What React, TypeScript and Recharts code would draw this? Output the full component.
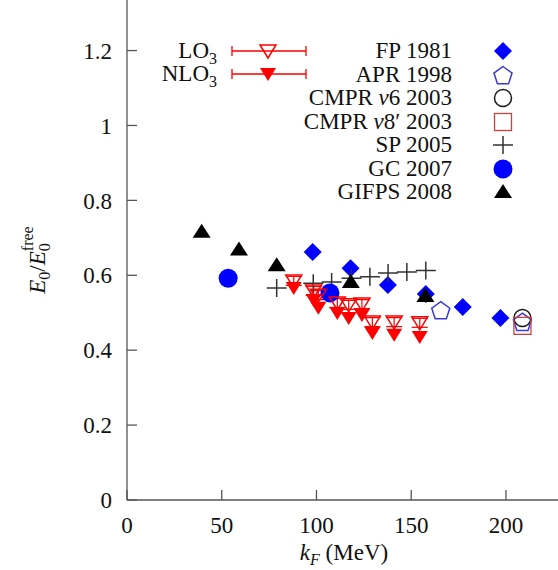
import React from "react";
import { ScatterChart, Scatter, XAxis, YAxis, ErrorBar } from "recharts";

// k_F (MeV) and E0/E0^free
const latticeKf = [88, 98.5, 101, 111, 117, 124, 129.5, 141, 154.5];
const lo3Ratio = [0.585, 0.558, 0.547, 0.526, 0.521, 0.523, 0.475, 0.475, 0.473];
const lo3Err = [0.012, 0.012, 0.012, 0.012, 0.012, 0.012, 0.012, 0.012, 0.012];
const nlo3Ratio = [0.566, 0.534, 0.513, 0.499, 0.486, 0.494, 0.446, 0.441, 0.435];

const fpKf = [98, 118, 137.7, 157.7, 177.2, 197.1];
const fpRatio = [0.662, 0.619, 0.574, 0.55, 0.515, 0.486];
const aprKf = [165.6, 208.7];
const aprRatio = [0.507, 0.476];
const cmprV6Kf = [208.7];
const cmprV6Ratio = [0.486];
const cmprV8Kf = [208.7];
const cmprV8Ratio = [0.465];
const spKf = [79, 98.3, 108, 118.5, 128.2, 137.8, 147.7, 157.7];
const spRatio = [0.566, 0.579, 0.582, 0.592, 0.596, 0.606, 0.609, 0.613];
const gcKf = [53.4, 107.1];
const gcRatio = [0.592, 0.553];
const gifpsKf = [39.4, 59.1, 79, 118.1, 157.5];
const gifpsRatio = [0.716, 0.669, 0.627, 0.582, 0.545];

const xTicks = [0, 50, 100, 150, 200];
const yTicks = [0, 0.2, 0.4, 0.6, 0.8, 1, 1.2];

const BLUE = "#0000ff";
const RED = "#ff0000";
const AXIS = "#555555";
const FONT = "'Liberation Serif', 'DejaVu Serif', serif";
const FS = 23;

const pts = (xs: number[], ys: number[], err?: number[]) =>
    xs.map((x, i) => (err ? { x, y: ys[i], err: err[i] } : { x, y: ys[i] }));

// marker shapes
const diamond = ({ cx, cy }: any) => (
    <path d={`M${cx},${cy - 9}L${cx + 9},${cy}L${cx},${cy + 9}L${cx - 9},${cy}Z`} fill={BLUE} />
);
const pentagon = ({ cx, cy }: any) => {
    const p = [0, 1, 2, 3, 4]
        .map((i) => {
            const a = ((-90 + 72 * i) * Math.PI) / 180;
            return `${cx + 9.5 * Math.cos(a)},${cy + 1 + 9.5 * Math.sin(a)}`;
        })
        .join(" ");
    return <polygon points={p} fill="none" stroke="#3a3ad6" strokeWidth={1.5} />;
};
const ring = ({ cx, cy }: any) => <circle cx={cx} cy={cy} r={8.5} fill="none" stroke="#1a1a1a" strokeWidth={1.5} />;
const square = ({ cx, cy }: any) => (
    <rect x={cx - 8.5} y={cy - 8.5} width={17} height={17} fill="none" stroke="#d04040" strokeWidth={1.3} />
);
const plus = ({ cx, cy }: any) => (
    <path d={`M${cx - 10},${cy}H${cx + 10}M${cx},${cy - 9}V${cy + 9}`} stroke="#333" strokeWidth={1.5} />
);
const dot = ({ cx, cy }: any) => <circle cx={cx} cy={cy} r={9.5} fill={BLUE} />;
const upTri = ({ cx, cy }: any) => (
    <path d={`M${cx},${cy - 8}L${cx + 9},${cy + 6}L${cx - 9},${cy + 6}Z`} fill="#000" />
);
const downTriOpen = ({ cx, cy }: any) => (
    <path d={`M${cx - 8},${cy - 6}L${cx + 8},${cy - 6}L${cx},${cy + 7}Z`} fill="none" stroke={RED} strokeWidth={1.5} />
);
const downTri = ({ cx, cy }: any) => (
    <path d={`M${cx - 8},${cy - 6}L${cx + 8},${cy - 6}L${cx},${cy + 7}Z`} fill={RED} />
);

const legendRows = [
    { name: <>FP 1981</>, shape: diamond },
    { name: <>APR 1998</>, shape: pentagon },
    { name: <>CMPR <i>v</i>6 2003</>, shape: ring },
    { name: <>CMPR <i>v</i>8′ 2003</>, shape: square },
    { name: <>SP 2005</>, shape: plus },
    { name: <>GC 2007</>, shape: dot },
    { name: <>GIFPS 2008</>, shape: upTri },
];
const latticeRows = [
    { name: <>LO<sub style={{ fontSize: 16 }}>3</sub></>, shape: downTriOpen },
    { name: <>NLO<sub style={{ fontSize: 16 }}>3</sub></>, shape: downTri },
];

const YLabel = () => (
    <text transform="rotate(-90, 45, 260)" x={45} y={260} textAnchor="middle" fontFamily={FONT} fontSize={FS} fill="#111">
        <tspan fontStyle="italic">E</tspan>
        <tspan fontSize={16} dy={5}>0</tspan>
        <tspan dy={-5}>/</tspan>
        <tspan fontStyle="italic">E</tspan>
        <tspan fontSize={16} dy={5}>0</tspan>
        <tspan fontSize={16} dx={-8} dy={-17}>free</tspan>
    </text>
);

const XLabel = () => (
    <text x={344} y={560} textAnchor="middle" fontFamily={FONT} fontSize={FS} fill="#111">
        <tspan fontStyle="italic">k</tspan>
        <tspan fontStyle="italic" fontSize={16} dy={5}>F</tspan>
        <tspan dy={-5}> (MeV)</tspan>
    </text>
);

const App = () => {
    const tickStyle = { fill: "#111", fontSize: FS, fontFamily: FONT };
    return (
        <div style={{ position: "absolute", left: 0, top: 0, width: 558, height: 570, overflow: "hidden", background: "#fff" }}>
            <ScatterChart width={569} height={570} margin={{ top: 0, right: 0, bottom: 0, left: 0 }}>
                <XAxis
                    type="number"
                    dataKey="x"
                    domain={[0, 228]}
                    ticks={xTicks}
                    height={70}
                    stroke={AXIS}
                    strokeWidth={1.3}
                    tickSize={-10}
                    tickMargin={27}
                    tick={tickStyle}
                    label={<XLabel />}
                />
                <YAxis
                    type="number"
                    dataKey="y"
                    domain={[0, 1.335]}
                    ticks={yTicks}
                    width={127}
                    stroke={AXIS}
                    strokeWidth={1.3}
                    tickSize={-10}
                    tickMargin={25}
                    tick={tickStyle}
                    label={<YLabel />}
                />
                <YAxis
                    yAxisId="r"
                    orientation="right"
                    type="number"
                    domain={[0, 1.335]}
                    ticks={yTicks}
                    width={10}
                    stroke={AXIS}
                    strokeWidth={1.3}
                    tickSize={-10}
                    tick={false}
                />
                <Scatter data={pts(fpKf, fpRatio)} shape={diamond} isAnimationActive={false} />
                <Scatter data={pts(aprKf, aprRatio)} shape={pentagon} isAnimationActive={false} />
                <Scatter data={pts(cmprV6Kf, cmprV6Ratio)} shape={ring} isAnimationActive={false} />
                <Scatter data={pts(cmprV8Kf, cmprV8Ratio)} shape={square} isAnimationActive={false} />
                <Scatter data={pts(spKf, spRatio)} shape={plus} isAnimationActive={false} />
                <Scatter data={pts(gcKf, gcRatio)} shape={dot} isAnimationActive={false} />
                <Scatter data={pts(gifpsKf, gifpsRatio)} shape={upTri} isAnimationActive={false} />
                <Scatter data={pts(latticeKf, lo3Ratio, lo3Err)} shape={downTriOpen} isAnimationActive={false}>
                    <ErrorBar dataKey="err" direction="y" width={8} stroke={RED} strokeWidth={1.2} />
                </Scatter>
                <Scatter data={pts(latticeKf, nlo3Ratio)} shape={downTri} isAnimationActive={false} />
            </ScatterChart>

            {/* legend, gnuplot style: text right-aligned, sample to the right */}
            {latticeRows.map((row, i) => {
                const cy = 51 + i * 23;
                return (
                    <React.Fragment key={`lat-${i}`}>
                        <div style={{ position: "absolute", right: 558 - 217, top: cy - 12, height: 24, lineHeight: "24px", fontSize: FS, fontFamily: FONT, color: "#111", whiteSpace: "nowrap" }}>
                            {row.name}
                        </div>
                        <svg style={{ position: "absolute", left: 226, top: cy - 12 }} width={86} height={24}>
                            <path d="M6,12H80M6,7V17M80,7V17" stroke={RED} strokeWidth={1.3} fill="none" />
                            {row.shape({ cx: 42, cy: 12 })}
                        </svg>
                    </React.Fragment>
                );
            })}
            {legendRows.map((row, i) => {
                const cy = 51 + i * 23.5;
                return (
                    <React.Fragment key={`leg-${i}`}>
                        <div style={{ position: "absolute", right: 558 - 452, top: cy - 12, height: 24, lineHeight: "24px", fontSize: FS, fontFamily: FONT, color: "#111", whiteSpace: "nowrap" }}>
                            {row.name}
                        </div>
                        <svg style={{ position: "absolute", left: 490, top: cy - 12 }} width={26} height={24}>
                            {row.shape({ cx: 13, cy: 12 })}
                        </svg>
                    </React.Fragment>
                );
            })}
        </div>
    );
};

export default App;
